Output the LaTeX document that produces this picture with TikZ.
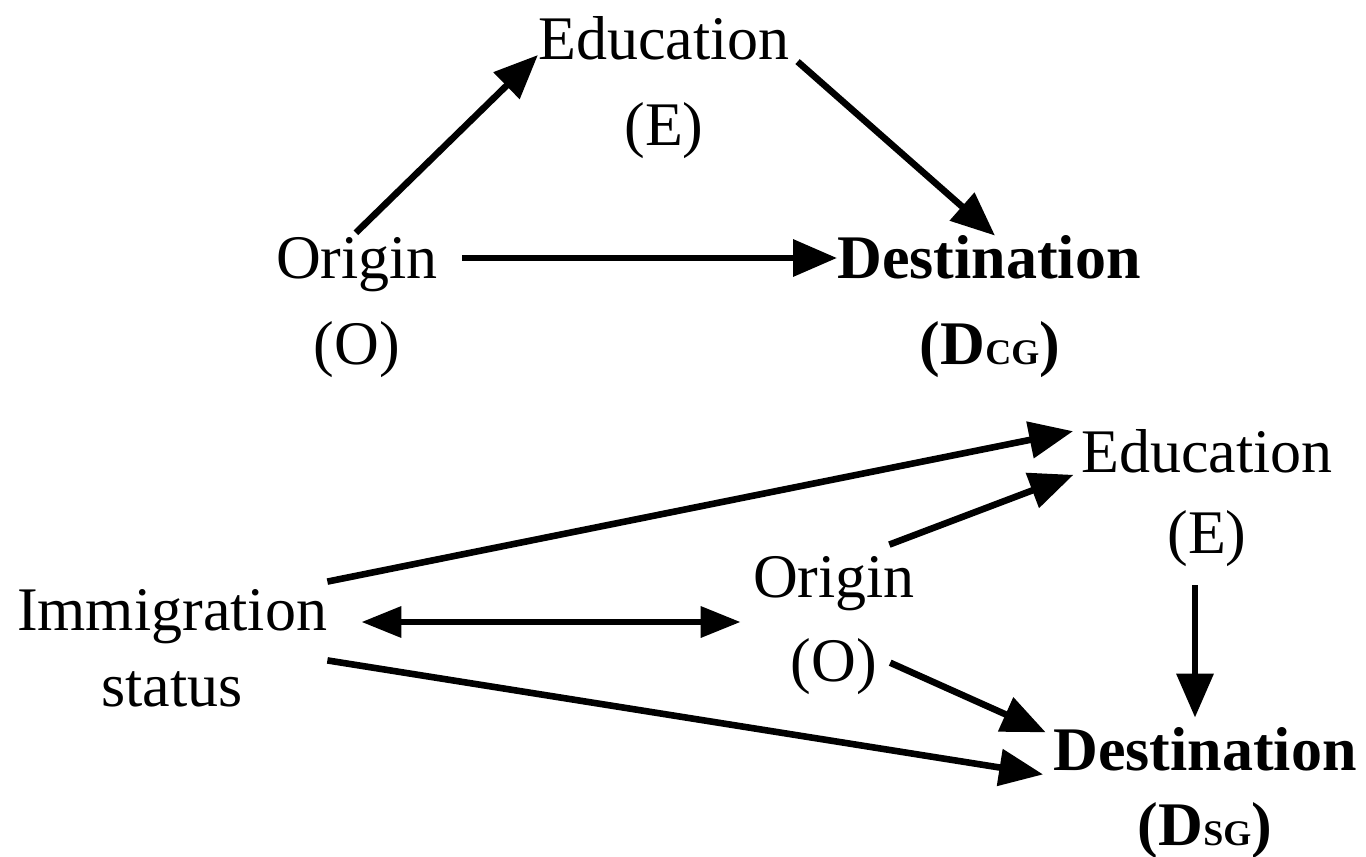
\documentclass[tikz,border=0pt]{standalone}
\usepackage{fontspec}
\setmainfont{Liberation Serif}
\usetikzlibrary{arrows.meta}

\tikzset{
  lbl/.style={anchor=base, inner sep=0pt, text height=21pt, text depth=7pt,
    font=\fontsize{31}{36}\selectfont},
  arr/.style={line width=3.3pt, -{Triangle[length=22pt,width=18pt]}},
}
\newcommand{\smallidx}[1]{{\fontsize{18}{18}\selectfont #1}}

\begin{document}
\begin{tikzpicture}[x=0.5pt, y=-0.5pt]
        \useasboundingbox (0,0) rectangle (1366,857);

        % --- Top model ---
        \node[lbl] (eT)  at (664,59)  {Education};
        \node[lbl] (eTs) at (664,145) {(E)};
        \node[lbl] (oT)  at (357,278) {Origin};
        \node[lbl] (oTs) at (357,364) {(O)};
        \node[lbl] (dT)  at (989,278) {\textbf{Destination}};
        \node[lbl] (dTs) at (990,364) {\textbf{(D\smallidx{CG})}};

        \draw[arr, shorten <=2pt] ([xshift=-2pt]oT.north) -- ([yshift=-5pt]eT.west);
        \draw[arr, shorten <=5pt] ([yshift=-5pt]eT.east) -- ([xshift=3pt]dT.north);
        \draw[arr, shorten <=12pt] ([yshift=3pt]oT.east) -- ([yshift=3pt]dT.west);
        % ---

        % --- Bottom model ---
        \node[lbl] (eB)  at (1207,472) {Education};
        \node[lbl] (eBs) at (1207,553) {(E)};
        \node[lbl] (oB)  at (834,597)  {Origin};
        \node[lbl] (oBs) at (834,681)  {(O)};
        \node[lbl] (iB)  at (172,630)  {Immigration};
        \node[lbl] (iBs) at (172,706)  {status};
        \node[lbl] (dB)  at (1205,770) {\textbf{Destination}};
        \node[lbl] (dBs) at (1205,845) {\textbf{(D\smallidx{SG})}};

        \draw[arr, shorten >=4pt] ([yshift=3pt]iB.north east) -- (eB.north west);
        \draw[arr, {Triangle[length=20pt,width=15pt]}-{Triangle[length=20pt,width=15pt]},
              shorten <=17pt, shorten >=6pt] ([yshift=-3pt]iB.east) -- ([yshift=-3pt]iB.east -| oB.west);
        \draw[arr, shorten >=4pt] ([shift={(-13pt,5pt)}]oB.north east) -- ([yshift=-7pt]eB.west);
        \draw[arr, shorten <=9pt, shorten >=5pt] ([xshift=-6pt]eBs.south) -- ([xshift=-5pt]dB.north);
        \draw[arr, shorten <=7pt, shorten >=4pt] ([yshift=5pt]oBs.east) -- ([yshift=-4pt]dB.north west);
        \draw[arr, shorten >=5pt] ([yshift=-8pt]iB.south east) -- ([yshift=-10pt]dB.west);
        % ---
\end{tikzpicture}
\end{document}
